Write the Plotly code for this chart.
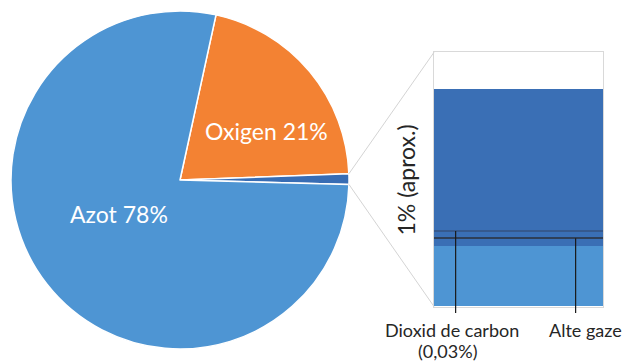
import math
import plotly.graph_objects as go

# Composition of air (percent)
pie_labels = ["Oxigen", "Alte gaze", "Azot"]
pie_values = [21, 1, 78]
pie_colors = ["#F38233", "#386DB4", "#4E95D3"]

# Stacked breakdown of the ~1% remainder (relative parts, bottom to top)
bar_parts = ["Bază", "Rest 1", "Alte gaze", "Rest 2", "Dioxid de carbon", "Argon"]
bar_values = [60.0, 7.5, 1.3, 5.7, 1.8, 141.2]
bar_colors = ["#4E95D3", "#3A6FB5", "#2E3F58", "#3A6FB5", "#35598E", "#3A6FB5"]
bar_total = 254.2

remainder_title = "1% (aprox.)"
co2_pct = 0.03

W, H = 622, 363
FONT = "Lato, 'Open Sans', sans-serif"


def px(x):
    return x / W


def py(y):
    return 1 - y / H


# Pie geometry (pixels)
cx, cy, r = 180.0, 180.0, 169.0
rotation = 12.3

# Bar box (pixels)
bx0, bx1, by0, by1 = 434.0, 603.0, 52.3, 306.5

fig = go.Figure()

fig.add_trace(go.Pie(
    labels=pie_labels,
    values=pie_values,
    marker=dict(colors=pie_colors, line=dict(color="white", width=1.5)),
    sort=False,
    direction="clockwise",
    rotation=rotation,
    textinfo="none",
    hoverinfo="label+percent",
    showlegend=False,
    domain=dict(x=[px(cx - r), px(cx + r)], y=[py(cy + r), py(cy - r)]),
))

base = 0.0
for name, val, col in zip(bar_parts, bar_values, bar_colors):
    fig.add_trace(go.Bar(
        x=[0], y=[val], base=[base], name=name,
        marker=dict(color=col, line=dict(width=0)),
        width=1.0, showlegend=False, xaxis="x", yaxis="y",
    ))
    base += val

fig.update_layout(
    width=W, height=H,
    margin=dict(l=0, r=0, t=0, b=0),
    paper_bgcolor="white", plot_bgcolor="white",
    barmode="overlay", bargap=0,
    xaxis=dict(domain=[px(bx0), px(bx1)], range=[-0.5, 0.5],
               showticklabels=False, ticks="", showgrid=False, zeroline=False,
               showline=True, mirror=True, linecolor="#D9D9D9", linewidth=1,
               layer="below traces"),
    yaxis=dict(domain=[py(by1), py(by0)], range=[0, bar_total],
               showticklabels=False, ticks="", showgrid=False, zeroline=False,
               showline=True, mirror=True, linecolor="#D9D9D9", linewidth=1,
               layer="below traces"),
)


def y_to_paper(v):
    d0, d1 = py(by1), py(by0)
    return d0 + (v / bar_total) * (d1 - d0)


cum = [sum(bar_values[:i]) for i in range(len(bar_values) + 1)]

# Connector lines from the small pie slice to the bar box
a_start = math.radians(rotation + 360 * pie_values[0] / sum(pie_values))
a_end = math.radians(rotation + 360 * sum(pie_values[:2]) / sum(pie_values))
for ang, ty in [(a_start, by0), (a_end, by1)]:
    sx = cx + r * math.sin(ang)
    sy = cy - r * math.cos(ang)
    fig.add_shape(type="line", xref="paper", yref="paper",
                  x0=px(sx), y0=py(sy), x1=px(bx0), y1=py(ty),
                  line=dict(color="#D4D4D4", width=1))

# Leader lines to the thin segments
leader_y_end = py(313)
for part, xpos in [("Dioxid de carbon", -0.372), ("Alte gaze", 0.338)]:
    i = bar_parts.index(part)
    ymid = (cum[i] + cum[i + 1]) / 2
    fig.add_shape(type="line", xref="x", yref="paper",
                  x0=xpos, x1=xpos, y0=y_to_paper(ymid), y1=leader_y_end,
                  line=dict(color="#1A1A1A", width=1.2))

# Pie labels
label_pos = {"Oxigen": (266, 131), "Azot": (119, 214)}
for lab, val in zip(pie_labels, pie_values):
    if lab in label_pos:
        x, y = label_pos[lab]
        fig.add_annotation(x=px(x), y=py(y), xref="paper", yref="paper",
                           text=f"{lab} {val}%", showarrow=False,
                           font=dict(family=FONT, size=23, color="white"),
                           xanchor="center", yanchor="middle")

fig.add_annotation(x=px(405), y=py(180.5), xref="paper", yref="paper",
                   text=remainder_title, textangle=-90, showarrow=False,
                   font=dict(family=FONT, size=23, color="#262626"),
                   xanchor="center", yanchor="middle")

co2_text = f"({co2_pct:.2f}%)".replace(".", ",")
bottom_labels = [
    ("Dioxid de carbon", 452, 330),
    (co2_text, 447.5, 351),
    ("Alte gaze", 585.5, 330),
]
for txt, x, y in bottom_labels:
    fig.add_annotation(x=px(x), y=py(y), xref="paper", yref="paper",
                       text=txt, showarrow=False,
                       font=dict(family=FONT, size=18, color="#262626"),
                       xanchor="center", yanchor="middle")

fig.write_html("out.html")
